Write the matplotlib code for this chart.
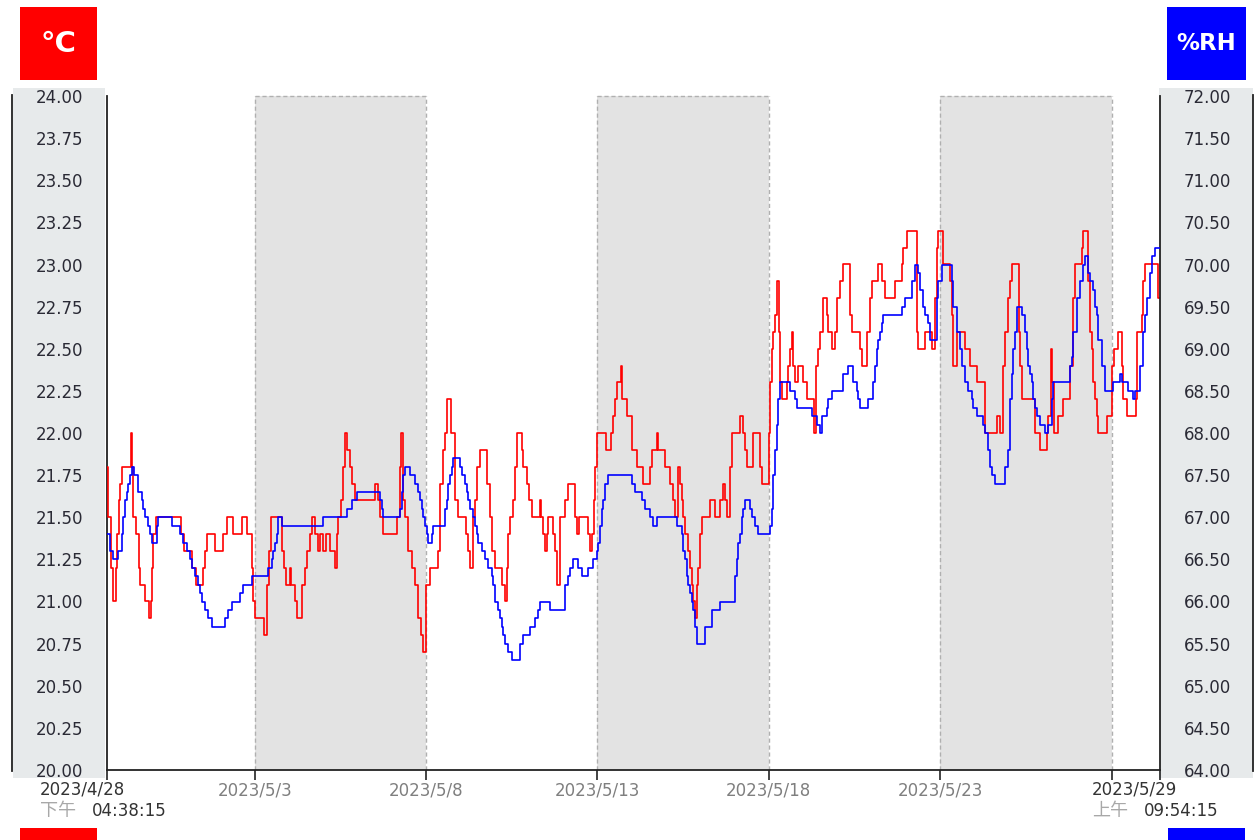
import numpy as np
import pandas as pd
import matplotlib
matplotlib.use("Agg")
import matplotlib.pyplot as plt
import matplotlib.dates as mdates
from matplotlib.patches import Rectangle
from matplotlib.lines import Line2D

plt.rcParams["font.family"] = ["DejaVu Sans", "Noto Sans CJK TC"]

# Data

start = pd.Timestamp("2023-04-28 16:38:15")
end = pd.Timestamp("2023-05-29 09:54:15")

# temperature steps: hours since start, value in °C
temp_hours = [
    0, 0.7, 2.8, 4.2, 6.3, 7, 8.4, 9.1, 10.5, 16.8,
    17.5, 18.2, 20.3, 22.4, 23.1, 26.6, 29.4, 30.8, 31.5, 32.2,
    34.3, 51.8, 53.9, 59.5, 62.3, 67.2, 68.6, 70, 75.6, 81.2,
    84, 88.2, 94.5, 98, 101.5, 102.2, 103.6, 109.9, 112, 113.4,
    114.8, 122.5, 123.9, 125.3, 128.1, 128.8, 131.6, 133, 136.5, 138.6,
    140, 142.1, 143.5, 145.6, 147.7, 149.1, 151.2, 153.3, 156.1, 159.6,
    161, 161.7, 163.8, 165.2, 166.6, 168, 170.1, 171.5, 173.6, 187.6,
    189.7, 191.1, 193.2, 203, 205.1, 205.8, 207.2, 208.6, 210.7, 213.5,
    215.6, 217.7, 219.8, 221.2, 223.3, 226.1, 231.7, 233.1, 235.2, 236.6,
    238, 240.8, 243.6, 245.7, 251.3, 252.7, 254.1, 256.2, 257.6, 259,
    261.1, 266, 268.1, 269.5, 271.6, 276.5, 278.6, 280, 280.7, 282.1,
    284.2, 285.6, 287, 290.5, 291.2, 294, 295.4, 297.5, 303.1, 303.8,
    305.2, 306.6, 308, 308.7, 312.2, 313.6, 315, 317.1, 320.6, 322.7,
    327.6, 329, 330.4, 336.7, 338.1, 339.5, 340.9, 341.6, 343, 349.3,
    352.8, 354.2, 355.6, 357, 359.8, 360.5, 364, 367.5, 371, 375.2,
    380.1, 381.5, 385, 385.7, 390.6, 394.1, 396.2, 397.6, 399.7, 401.1,
    402.5, 403.2, 404.6, 406.7, 408.1, 409.5, 410.2, 411.6, 413, 413.7,
    415.1, 416.5, 422.1, 425.6, 429.1, 431.2, 432.6, 434, 436.1, 437.5,
    443.1, 445.2, 446.6, 448, 452.2, 457.1, 458.5, 463.4, 464.1, 465.5,
    466.2, 467.6, 469, 470.4, 471.1, 472.5, 476, 476.7, 478.1, 479.5,
    480.2, 481.6, 483.7, 487.2, 490, 494.9, 496.3, 497.7, 499.1, 501.2,
    504, 504.7, 507.5, 509.6, 511, 513.1, 515.2, 520.1, 521.5, 527.1,
    528.5, 532, 534.1, 535.5, 539.7, 542.5, 544.6, 551.6, 556.5, 557.2,
    560, 567, 567.7, 572.6, 577.5, 579.6, 581, 581.7, 585.2, 590.1,
    591.5, 592.2, 595, 600.6, 604.1, 609, 614.6, 623, 625.1, 627.2,
    628.6, 630.7, 632.1, 633.5, 638.4, 639.1, 640.5, 649.6, 653.1, 658,
    658.7, 660.8, 661.5, 662.9, 665.7, 669.2, 674.1, 676.2, 677.6, 682.5,
    683.2, 686.7, 688.1, 689.5, 690.2, 691.6, 693, 693.7, 700, 703.5,
    704.9, 707.7, 710.5, 711.2, 714, 720.3, 721, 724.5, 725.2, 726.6,
    735.7,
]
temp_values = [
    21.8, 21.5, 21.2, 21.0, 21.2, 21.4, 21.6, 21.7, 21.8, 22.0,
    21.8, 21.5, 21.4, 21.2, 21.1, 21.0, 20.9, 21.0, 21.2, 21.4,
    21.5, 21.4, 21.3, 21.2, 21.1, 21.2, 21.3, 21.4, 21.3, 21.4,
    21.5, 21.4, 21.5, 21.4, 21.2, 21.0, 20.9, 20.8, 21.1, 21.3,
    21.5, 21.3, 21.2, 21.1, 21.2, 21.1, 21.0, 20.9, 21.1, 21.2,
    21.3, 21.4, 21.5, 21.4, 21.3, 21.4, 21.3, 21.4, 21.3, 21.2,
    21.4, 21.5, 21.6, 21.8, 22.0, 21.9, 21.8, 21.7, 21.6, 21.7,
    21.6, 21.5, 21.4, 21.5, 21.8, 22.0, 21.6, 21.5, 21.3, 21.2,
    21.1, 20.9, 20.8, 20.7, 21.1, 21.2, 21.3, 21.7, 21.9, 22.0,
    22.2, 22.0, 21.6, 21.5, 21.4, 21.3, 21.2, 21.5, 21.6, 21.8,
    21.9, 21.7, 21.5, 21.3, 21.2, 21.1, 21.0, 21.2, 21.4, 21.5,
    21.6, 21.8, 22.0, 21.9, 21.8, 21.7, 21.6, 21.5, 21.6, 21.5,
    21.4, 21.3, 21.4, 21.5, 21.4, 21.3, 21.1, 21.5, 21.6, 21.7,
    21.5, 21.4, 21.5, 21.4, 21.3, 21.4, 21.6, 21.8, 22.0, 21.9,
    22.0, 22.1, 22.2, 22.3, 22.4, 22.2, 22.1, 21.9, 21.8, 21.7,
    21.8, 21.9, 22.0, 21.9, 21.8, 21.7, 21.6, 21.5, 21.8, 21.7,
    21.6, 21.5, 21.4, 21.3, 21.2, 21.1, 21.0, 20.9, 21.1, 21.2,
    21.4, 21.5, 21.6, 21.5, 21.6, 21.7, 21.6, 21.5, 21.8, 22.0,
    22.1, 22.0, 21.9, 21.8, 22.0, 21.8, 21.7, 22.0, 22.3, 22.5,
    22.6, 22.7, 22.9, 22.6, 22.3, 22.2, 22.3, 22.4, 22.5, 22.6,
    22.4, 22.3, 22.4, 22.3, 22.2, 22.0, 22.4, 22.5, 22.6, 22.8,
    22.7, 22.6, 22.5, 22.6, 22.8, 22.9, 23.0, 22.7, 22.6, 22.5,
    22.4, 22.6, 22.8, 22.9, 23.0, 22.9, 22.8, 22.9, 23.0, 23.1,
    23.2, 22.6, 22.5, 22.6, 22.5, 22.8, 23.1, 23.2, 23.0, 22.9,
    22.7, 22.4, 22.6, 22.5, 22.4, 22.3, 22.0, 22.1, 22.0, 22.4,
    22.6, 22.8, 22.9, 23.0, 22.6, 22.4, 22.2, 22.0, 21.9, 22.0,
    22.1, 22.5, 22.3, 22.0, 22.1, 22.2, 22.4, 22.8, 23.0, 23.1,
    23.2, 22.9, 22.6, 22.5, 22.3, 22.2, 22.1, 22.0, 22.1, 22.4,
    22.5, 22.6, 22.4, 22.2, 22.1, 22.2, 22.6, 22.7, 22.9, 23.0,
    22.8,
]

# relative humidity steps: hours since start, value in %RH
rh_hours = [
    0, 2.1, 4.2, 7.7, 10.5, 11.2, 12.6, 14, 14.7, 16.1,
    17.5, 18.9, 21.7, 24.5, 25.2, 26.6, 28.7, 30.1, 31.5, 35,
    35.7, 45.5, 51.1, 53.2, 56, 58.1, 59.5, 61.6, 63.7, 65.1,
    66.5, 68.6, 70.7, 73.5, 82.6, 84.7, 87.5, 93.1, 95.2, 101.5,
    112.7, 115.5, 116.2, 117.6, 119, 119.7, 122.5, 151.2, 168, 171.5,
    175, 191.1, 192.5, 193.2, 205.1, 206.5, 207.2, 208.6, 212.1, 215.6,
    217.7, 219.1, 220.5, 221.2, 222.6, 224, 224.7, 227.5, 228.2, 236.6,
    238, 238.7, 240.1, 241.5, 242.2, 247.1, 248.5, 250.6, 252, 252.7,
    254.1, 256.2, 257.6, 259, 259.7, 262.5, 264.6, 266.7, 269.5, 270.2,
    271.6, 273.7, 275.1, 276.5, 277.2, 278.6, 280.7, 283.5, 289.1, 291.2,
    296.1, 299.6, 301.7, 303.1, 310.1, 320.6, 322.7, 324.1, 326.2, 329.7,
    332.5, 336.7, 340.2, 343, 343.7, 345.1, 346.5, 347.2, 348.6, 350.7,
    367.5, 369.6, 374.5, 376.6, 380.1, 382.2, 385, 399, 402.5, 403.2,
    404.6, 406, 406.7, 408.1, 409.5, 410.2, 411.6, 413, 418.6, 423.5,
    429.1, 439.6, 441, 441.7, 443.1, 444.5, 445.2, 446.6, 450.1, 451.5,
    453.6, 455.7, 464.1, 465.5, 466.2, 467.6, 469, 469.7, 471.1, 478.1,
    481.6, 483, 493.5, 497, 499.1, 500.5, 504, 504.7, 507.5, 515.2,
    518.7, 522.2, 525, 525.7, 527.1, 532.7, 536.2, 537.6, 539, 539.7,
    541.1, 542.5, 543.2, 556.5, 558.6, 563.5, 565.6, 567.7, 569.1, 571.2,
    572.6, 574.7, 576.1, 581, 581.7, 584.5, 591.5, 592.2, 595, 597.1,
    598.5, 600.6, 602.7, 605.5, 606.2, 609, 613.2, 614.6, 616.7, 618.1,
    619.5, 621.6, 628.6, 630.7, 632.1, 633.5, 634.2, 635.6, 637, 640.5,
    642.6, 644, 644.7, 646.1, 647.5, 648.2, 649.6, 651, 653.1, 656.6,
    658.7, 661.5, 662.2, 674.1, 675.5, 676.2, 679, 681.1, 683.2, 684.6,
    686.7, 688.1, 690.2, 691.6, 693, 693.7, 696.5, 698.6, 704.2, 709.1,
    710.5, 714.7, 718.2, 719.6, 723.1, 725.2, 726.6, 728, 730.1, 731.5,
    733.6,
]
rh_values = [
    66.8, 66.6, 66.5, 66.6, 66.8, 67.0, 67.2, 67.3, 67.4, 67.5,
    67.6, 67.5, 67.3, 67.2, 67.1, 67.0, 66.9, 66.8, 66.7, 66.9,
    67.0, 66.9, 66.8, 66.7, 66.6, 66.5, 66.4, 66.3, 66.2, 66.1,
    66.0, 65.9, 65.8, 65.7, 65.8, 65.9, 66.0, 66.1, 66.2, 66.3,
    66.4, 66.5, 66.6, 66.7, 66.8, 67.0, 66.9, 67.0, 67.1, 67.2,
    67.3, 67.2, 67.1, 67.0, 67.1, 67.3, 67.5, 67.6, 67.5, 67.4,
    67.3, 67.2, 67.1, 67.0, 66.9, 66.8, 66.7, 66.8, 66.9, 67.1,
    67.2, 67.4, 67.5, 67.6, 67.7, 67.6, 67.5, 67.4, 67.3, 67.2,
    67.1, 67.0, 66.9, 66.8, 66.7, 66.6, 66.5, 66.4, 66.3, 66.2,
    66.0, 65.9, 65.8, 65.7, 65.6, 65.5, 65.4, 65.3, 65.5, 65.6,
    65.7, 65.8, 65.9, 66.0, 65.9, 66.2, 66.3, 66.4, 66.5, 66.4,
    66.3, 66.4, 66.5, 66.6, 66.7, 66.9, 67.1, 67.2, 67.4, 67.5,
    67.4, 67.3, 67.2, 67.1, 67.0, 66.9, 67.0, 66.9, 66.8, 66.6,
    66.5, 66.3, 66.2, 66.1, 66.0, 65.9, 65.7, 65.5, 65.7, 65.9,
    66.0, 66.3, 66.5, 66.7, 66.8, 67.0, 67.1, 67.2, 67.1, 67.0,
    66.9, 66.8, 66.9, 67.1, 67.5, 67.8, 68.1, 68.4, 68.6, 68.5,
    68.4, 68.3, 68.2, 68.1, 68.0, 68.2, 68.3, 68.4, 68.5, 68.7,
    68.8, 68.6, 68.5, 68.4, 68.3, 68.4, 68.6, 68.8, 69.0, 69.1,
    69.2, 69.3, 69.4, 69.5, 69.6, 69.8, 70.0, 69.9, 69.7, 69.5,
    69.4, 69.3, 69.1, 69.6, 69.8, 70.0, 69.8, 69.5, 69.2, 69.0,
    68.8, 68.6, 68.5, 68.4, 68.3, 68.2, 68.1, 68.0, 67.8, 67.6,
    67.5, 67.4, 67.6, 67.8, 68.4, 68.7, 69.0, 69.2, 69.5, 69.4,
    69.2, 69.0, 68.8, 68.7, 68.6, 68.4, 68.3, 68.2, 68.1, 68.0,
    68.1, 68.4, 68.6, 68.8, 68.9, 69.2, 69.6, 69.8, 70.0, 70.1,
    69.9, 69.8, 69.7, 69.5, 69.4, 69.1, 68.8, 68.5, 68.6, 68.7,
    68.6, 68.5, 68.4, 68.5, 68.8, 69.2, 69.4, 69.6, 69.9, 70.1,
    70.2,
]

shade_ranges = [("2023-05-03", "2023-05-08"), ("2023-05-13", "2023-05-18"), ("2023-05-23", "2023-05-28")]
tick_dates = ["2023-05-03", "2023-05-08", "2023-05-13", "2023-05-18", "2023-05-23", "2023-05-28"]
tick_labels = ["2023/5/3", "2023/5/8", "2023/5/13", "2023/5/18", "2023/5/23", ""]
temp_ticks = np.arange(20, 24.001, 0.25)
rh_ticks = np.arange(64, 72.001, 0.5)

start_label = ("2023/4/28", "下午", "04:38:15")
end_label = ("2023/5/29", "上午", "09:54:15")


def to_num(hours):
    t = start + pd.to_timedelta(np.asarray(hours, dtype=float), unit="h")
    return mdates.date2num(t.to_pydatetime())


t_start = mdates.date2num(start.to_pydatetime())
t_end = mdates.date2num(end.to_pydatetime())

temp_x = np.append(to_num(temp_hours), t_end)
temp_y = np.append(temp_values, temp_values[-1])
rh_x = np.append(to_num(rh_hours), t_end)
rh_y = np.append(rh_values, rh_values[-1])

# Figure layout (pixel helpers)

W, H = 1255, 840


def fx(px):
    return px / W


def fy(px):
    return 1 - px / H


fig = plt.figure(figsize=(W / 100, H / 100), dpi=100)
ax = fig.add_axes([fx(107), fy(770), (1160 - 107) / W, (770 - 96) / H])

# side panels holding the tick labels
for x0, x1 in [(13, 105), (1159, 1253)]:
    fig.add_artist(Rectangle((fx(x0), fy(778)), (x1 - x0) / W, (778 - 88) / H,
                             transform=fig.transFigure, facecolor="#e7eaeb",
                             edgecolor="none", zorder=-1))
for xl in [12, 1253]:
    fig.add_artist(Line2D([fx(xl), fx(xl)], [fy(95), fy(771)], transform=fig.transFigure,
                          color="#222222", lw=1.3))

# shaded 5-day bands
for d0, d1 in shade_ranges:
    n0 = mdates.date2num(pd.Timestamp(d0).to_pydatetime())
    n1 = mdates.date2num(pd.Timestamp(d1).to_pydatetime())
    ax.axvspan(n0, n1, facecolor="#e3e3e3", edgecolor="none", zorder=0)
    for n in (n0, n1):
        ax.axvline(n, color="#b0b0b0", lw=1, ls=(0, (3, 2)), zorder=1)
    ax.plot([n0, n1], [24, 24], color="#b0b0b0", lw=1, ls=(0, (3, 2)), clip_on=False, zorder=1)

ax.step(temp_x, temp_y, where="post", color="#ff0000", lw=1.2, zorder=3)
ax.set_xlim(t_start, t_end)
ax.set_ylim(20, 24)

ax2 = ax.twinx()
ax2.step(rh_x, rh_y, where="post", color="#0000ff", lw=1.2, zorder=3)
ax2.set_ylim(64, 72)

for s in ["top", "right"]:
    ax.spines[s].set_visible(False)
for s in ["top", "left", "bottom"]:
    ax2.spines[s].set_visible(False)
for sp in [ax.spines["left"], ax.spines["bottom"], ax2.spines["right"]]:
    sp.set_color("#222222")
    sp.set_linewidth(1.3)

ax.set_yticks(temp_ticks, labels=[f"{v:.2f}" for v in temp_ticks])
ax.tick_params(axis="y", length=0, pad=34, labelsize=12, labelcolor="#2a2a35")
for lbl in ax.get_yticklabels():
    lbl.set_horizontalalignment("center")

ax2.set_yticks(rh_ticks, labels=[f"{v:.2f}" for v in rh_ticks])
ax2.tick_params(axis="y", length=0, pad=34, labelsize=12, labelcolor="#2a2a35")
for lbl in ax2.get_yticklabels():
    lbl.set_horizontalalignment("center")

xt = [t_start] + [mdates.date2num(pd.Timestamp(d).to_pydatetime()) for d in tick_dates] + [t_end]
ax.set_xticks(xt, labels=[""] + tick_labels + [""])
ax.tick_params(axis="x", length=7, width=1.2, color="#222222", pad=1.5,
               labelsize=12, labelcolor="#7f7f7f")

# end-of-range labels
fig.text(fx(40), fy(790), start_label[0], color="#333333", fontsize=12, va="center")
fig.text(fx(40), fy(811), start_label[1], color="#a8a8a8", fontsize=13, va="center")
fig.text(fx(92), fy(811), start_label[2], color="#333333", fontsize=12, va="center")
fig.text(fx(1092), fy(790), end_label[0], color="#333333", fontsize=12, va="center")
fig.text(fx(1092), fy(811), end_label[1], color="#a8a8a8", fontsize=13, va="center")
fig.text(fx(1144), fy(811), end_label[2], color="#333333", fontsize=12, va="center")

# unit badges
badges = [(20, 7, 77, 73, "#ff0000", "°C", 21), (1167, 7, 79, 73, "#0000ff", "%RH", 16.5)]
for x0, y0, w, h, c, txt, fs in badges:
    fig.add_artist(Rectangle((fx(x0), fy(y0 + h)), w / W, h / H, transform=fig.transFigure,
                             facecolor=c, edgecolor="none"))
    fig.text(fx(x0 + w / 2), fy(y0 + h / 2), txt, color="white", fontsize=fs,
             fontweight="bold", ha="center", va="center")
for x0, c in [(20, "#ff0000"), (1168, "#0000ff")]:
    fig.add_artist(Rectangle((fx(x0), 0), 77 / W, 12 / H, transform=fig.transFigure,
                             facecolor=c, edgecolor="none"))

fig.savefig("out.png", dpi=100)
